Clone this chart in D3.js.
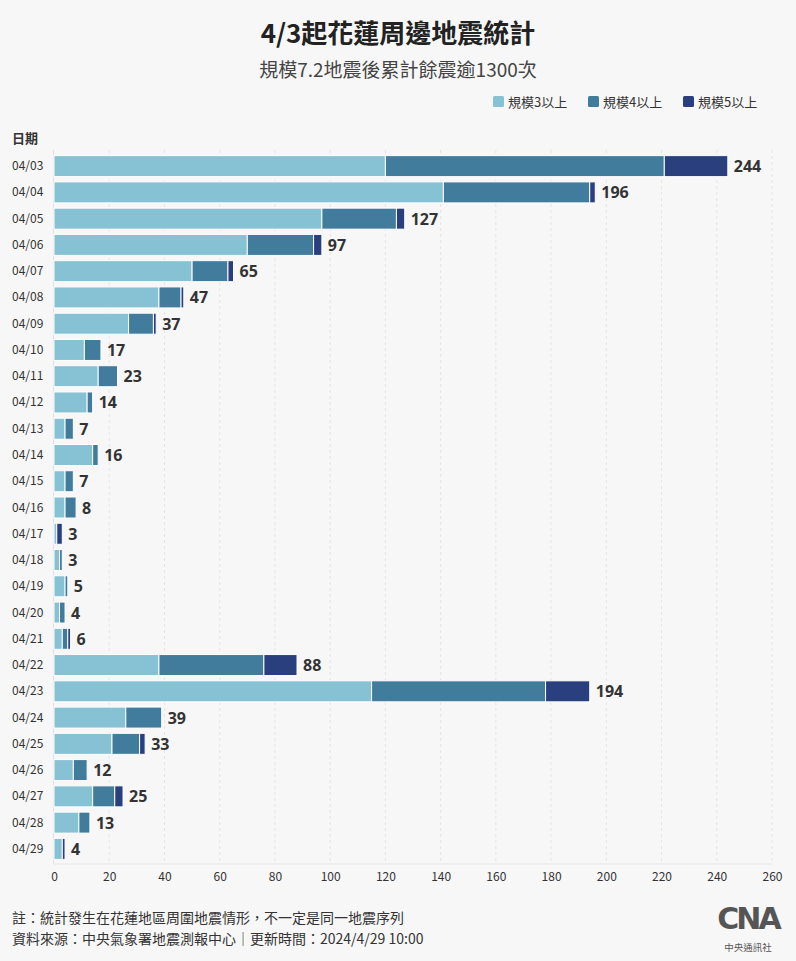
<!DOCTYPE html>
<html><head><meta charset="utf-8">
<script src="https://cdn.jsdelivr.net/npm/d3@7"></script>
<style>
body{margin:0;background:#f7f7f7;}
svg{display:block;font-family:"Noto Sans CJK TC","Noto Sans",sans-serif;}
</style></head><body>
<svg id="c" width="796" height="961"></svg>
<script>
const dates = ["04/03","04/04","04/05","04/06","04/07","04/08","04/09","04/10","04/11","04/12","04/13","04/14","04/15","04/16","04/17","04/18","04/19","04/20","04/21","04/22","04/23","04/24","04/25","04/26","04/27","04/28","04/29"];
const mag3 = [120,141,97,70,50,38,27,11,16,12,4,14,4,4,1,2,4,2,3,38,115,26,21,7,14,9,3];
const mag4 = [101,53,27,24,13,8,9,6,7,2,3,2,3,4,0,1,1,2,2,38,63,13,10,5,8,4,0];
const mag5 = [23,2,3,3,2,1,1,0,0,0,0,0,0,0,2,0,0,0,1,12,16,0,2,0,3,0,1];
const totals = [244,196,127,97,65,47,37,17,23,14,7,16,7,8,3,3,5,4,6,88,194,39,33,12,25,13,4];
const xTicks = [0,20,40,60,80,100,120,140,160,180,200,220,240,260];
const seriesNames = ["規模3以上","規模4以上","規模5以上"];
const colors = ["#86c1d4","#427c9c","#2a3f7d"];

const svg = d3.select("#c");
svg.append("rect").attr("width",796).attr("height",961).attr("fill","#f7f7f7");

// titles
svg.append("text").attr("x",398).attr("y",43).attr("text-anchor","middle")
  .attr("font-size",26).attr("font-weight",700).attr("fill","#222").text("4/3起花蓮周邊地震統計");
svg.append("text").attr("x",398).attr("y",77).attr("text-anchor","middle")
  .attr("font-size",19).attr("fill","#444").text("規模7.2地震後累計餘震逾1300次");

// legend
const legX = [493,588,683];
seriesNames.forEach((n,i)=>{
  svg.append("rect").attr("x",legX[i]).attr("y",96).attr("width",11).attr("height",11).attr("rx",1.5).attr("fill",colors[i]);
  svg.append("text").attr("x",legX[i]+15).attr("y",106.5).attr("font-size",13).attr("fill","#333").text(n);
});
svg.append("text").attr("x",12).attr("y",143).attr("font-size",13).attr("font-weight",700).attr("fill","#333").text("日期");

const x = d3.scaleLinear().domain([0,260]).range([54,772]);
const y = d3.scaleBand().domain(dates).range([153,862]).paddingInner(0.2).paddingOuter(0.1);

// grid
svg.append("g").selectAll("line").data(xTicks.slice(1)).join("line")
  .attr("x1",d=>x(d)).attr("x2",d=>x(d)).attr("y1",150).attr("y2",864)
  .attr("stroke","#e4e4e4").attr("stroke-dasharray","3,3");
svg.append("line").attr("x1",54).attr("x2",772).attr("y1",864).attr("y2",864).attr("stroke","#e6e6e6");
svg.append("line").attr("x1",53.5).attr("x2",53.5).attr("y1",150).attr("y2",864).attr("stroke","#e0e0e0");

// x axis
const xa = svg.append("g").attr("transform","translate(0,864)")
  .call(d3.axisBottom(x).tickValues(xTicks).tickSize(0).tickPadding(8));
xa.select(".domain").remove();
xa.selectAll("text").attr("font-size",12).attr("fill","#333").attr("font-family","'Noto Sans CJK TC','Noto Sans',sans-serif");

// y labels
svg.append("g").selectAll("text").data(dates).join("text")
  .attr("x",12).attr("y",d=>y(d)+y.bandwidth()/2+4).attr("font-size",12).attr("fill","#333").text(d=>d);

// stacked bars
const rows = dates.map((d,i)=>({date:d,m3:mag3[i],m4:mag4[i],m5:mag5[i],total:totals[i]}));
const stack = d3.stack().keys(["m3","m4","m5"])(rows);
stack.forEach((layer,li)=>{
  svg.append("g").selectAll("rect").data(layer.filter(s=>s[1]>s[0])).join("rect")
    .attr("x",s=>x(s[0])).attr("width",s=>x(s[1])-x(s[0]))
    .attr("y",s=>y(s.data.date)).attr("height",y.bandwidth())
    .attr("fill",colors[li]).attr("stroke","#ffffff").attr("stroke-width",1);
});
// value labels
svg.append("g").selectAll("text").data(rows).join("text")
  .attr("x",d=>x(d.total)+6).attr("y",d=>y(d.date)+y.bandwidth()/2+6)
  .attr("font-size",16).attr("font-weight",700).attr("fill","#333").attr("font-family","'Open Sans','Noto Sans',sans-serif").text(d=>d.total);

// footer
svg.append("text").attr("x",12).attr("y",923).attr("font-size",14).attr("fill","#333").text("註：統計發生在花蓮地區周圍地震情形，不一定是同一地震序列");
svg.append("text").attr("x",12).attr("y",944).attr("font-size",14).attr("fill","#333").text("資料來源：中央氣象署地震測報中心｜更新時間：2024/4/29 10:00");

// logo
svg.append("text").attr("x",748).attr("y",929).attr("text-anchor","middle").attr("font-size",30).attr("font-weight",900)
  .attr("fill","#555").attr("letter-spacing",-3).attr("font-family","'DejaVu Sans',sans-serif").text("CNA");
svg.append("text").attr("x",748).attr("y",951).attr("text-anchor","middle").attr("font-size",9.5).attr("fill","#555").text("中央通訊社");
</script></body></html>
